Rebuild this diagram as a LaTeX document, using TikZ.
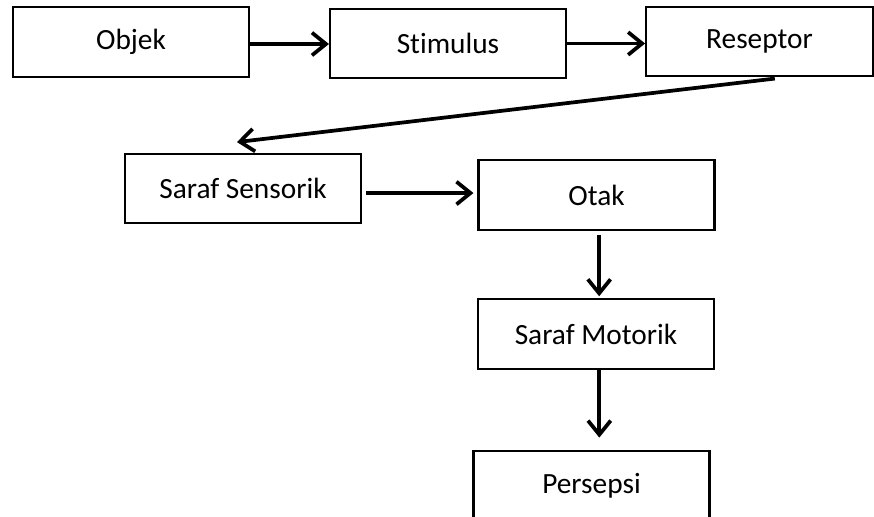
\documentclass[tikz,border=0pt]{standalone}
\usepackage{fontspec}
\setmainfont{Carlito}[Ligatures=NoCommon]
\usetikzlibrary{arrows.meta}
\begin{document}
\begin{tikzpicture}[x=0.75pt,y=-0.75pt,
  box/.style={draw,line width=1.6pt,minimum width=177pt,minimum height=52pt,inner sep=0pt,
    font=\fontsize{22}{26}\selectfont},
  conn/.style={line width=2.8pt,-{Straight Barb[length=10.5pt,width=17pt,line width=2.8pt]}}]
\clip (0,0) rectangle (874,517);
\fill[white] (0,0) rectangle (874,517);
\node[box] (objek) at (131,42) {Objek};
\node[box] (stim) at (448,43.5) {Stimulus};
\node[box,minimum width=170pt] (resep) at (759.5,41.5) {Reseptor};
\node[box] (sens) at (243,188.5) {Saraf Sensorik};
\node[box] (otak) at (596.5,195) {Otak};
\node[box] (mot) at (596,334) {Saraf Motorik};
\node[box] (pers) at (591.5,486) {Persepsi};
\draw[conn] ([yshift=-1.5pt]objek.east) -- ([yshift=-1.5pt]objek.east -| stim.west);
\draw[conn] (stim.east) -- (stim.east -| resep.west);
\draw[conn] ([xshift=11.5pt,yshift=-1pt]resep.south) -- ([shift={(-4.5pt,8pt)}]sens.north);
\draw[conn,shorten <=3pt,shorten >=3pt] ([yshift=-3.4pt]sens.east) -- ([yshift=-3.4pt]sens.east -| otak.west);
\draw[conn,shorten <=3pt,shorten >=1.5pt] ([xshift=2pt]otak.south) -- ([xshift=2pt]otak.south |- mot.north);
\draw[conn,shorten >=9.5pt] ([xshift=2.5pt]mot.south) -- ([xshift=2.5pt]mot.south |- pers.north);
\end{tikzpicture}
\end{document}
